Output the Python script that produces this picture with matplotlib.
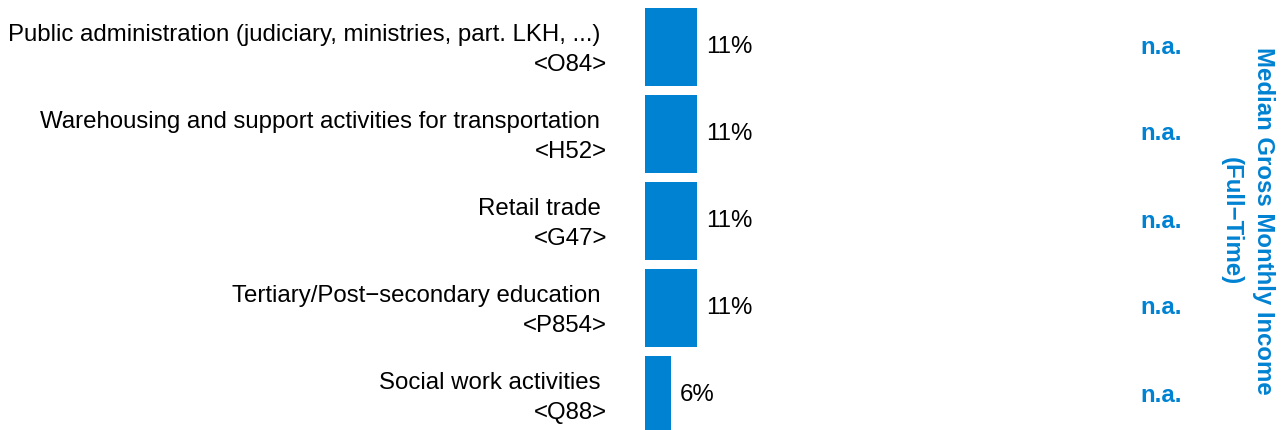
import matplotlib
matplotlib.use("Agg")
import matplotlib.pyplot as plt
from matplotlib.transforms import blended_transform_factory

categorias = [
    "Public administration (judiciary, ministries, part. LKH, ...)",
    "Warehousing and support activities for transportation",
    "Retail trade",
    "Tertiary/Post\u2212secondary education",
    "Social work activities",
]
codigos = ["<O84>", "<H52>", "<G47>", "<P854>", "<Q88>"]
valores = [11.0, 11.0, 11.0, 11.0, 5.5]
rotulos = ["11%", "11%", "11%", "11%", "6%"]
renda = ["n.a.", "n.a.", "n.a.", "n.a.", "n.a."]

AZUL = "#0082D2"
TAM = 17.3
plt.rcParams["font.family"] = ["Liberation Sans", "DejaVu Sans"]

fig = plt.figure(figsize=(12.84, 4.30), dpi=100)
ax = fig.add_axes([645 / 1284, 0, 1 - 645 / 1284, 1])

y = list(range(len(categorias)))
ax.barh(y, valores, height=0.9, color=AZUL)
ax.set_xlim(0, (1284 - 645) / 4.73)
ax.set_ylim((430 - 47) / 87, -47 / 87)
ax.axis("off")

trans_na = blended_transform_factory(fig.transFigure, ax.transData)

for i in y:
    ax.annotate(f"{categorias[i]} \n{codigos[i]}", (0, i), xytext=(-38, -3),
                textcoords="offset pixels", ha="right", va="center",
                multialignment="right", fontsize=TAM, linespacing=1.5)
    ax.annotate(rotulos[i], (valores[i], i), xytext=(9, 0),
                textcoords="offset pixels", ha="left", va="center", fontsize=TAM)
    ax.text(1161 / 1284, i, renda[i], transform=trans_na,
            ha="center", va="center", fontsize=TAM, fontweight="bold", color=AZUL)

fig.text(1247 / 1284, 1 - 221 / 430, "Median Gross Monthly Income\n(Full\u2212Time)",
         rotation=-90, ha="center", va="center", multialignment="center",
         fontsize=TAM, fontweight="bold", color=AZUL, linespacing=1.5)

fig.savefig("out.png", dpi=100)
